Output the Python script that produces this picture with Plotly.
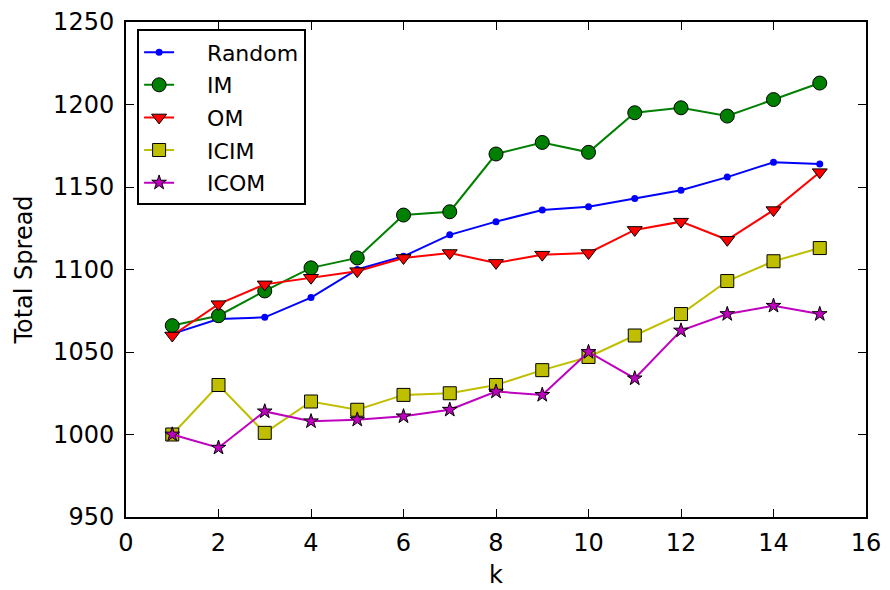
import plotly.graph_objects as go

k = list(range(1, 16))
random_vals = [1061, 1070, 1071, 1083, 1100, 1108, 1121, 1129, 1136, 1138, 1143, 1148, 1156, 1165, 1164]
im_vals = [1066, 1072, 1087, 1101, 1107, 1133, 1135, 1170, 1177, 1171, 1195, 1198, 1193, 1203, 1213]
om_vals = [1060, 1079, 1091, 1095, 1099, 1107, 1110, 1104, 1109, 1110, 1124, 1129, 1118, 1136, 1159]
icim_vals = [1000, 1030, 1001, 1020, 1015, 1024, 1025, 1030, 1039, 1047, 1060, 1073, 1093, 1105, 1113]
icom_vals = [1000, 992, 1014, 1008, 1009, 1011, 1015, 1026, 1024, 1050, 1034, 1063, 1073, 1078, 1073]

series = [
    ("Random", random_vals, "#0000ff", "circle", 7, 0),
    ("IM", im_vals, "#008000", "circle", 14, 1),
    ("OM", om_vals, "#ff0000", "triangle-down", 13, 1),
    ("ICIM", icim_vals, "#bfbf00", "square", 13, 1),
    ("ICOM", icom_vals, "#bf00bf", "star", 11, 1),
]

FONT = "DejaVu Sans"
PAD = "\u00a0" * 4
fig = go.Figure()
for name, vals, color, sym, size, lw in series:
    fig.add_trace(go.Scatter(
        x=k, y=vals, name=PAD + name, mode="lines+markers",
        line=dict(color=color, width=2),
        marker=dict(symbol=sym, size=size, color=color,
                    line=dict(color="black", width=lw)),
        legendgroup=name,
    ))

axis_common = dict(
    showgrid=False, zeroline=False, showline=True, linecolor="black", linewidth=2,
    mirror="ticks", ticks="inside", ticklen=8, tickwidth=1, tickcolor="black",
    tickfont=dict(family=FONT, size=24, color="black"), automargin=False,
)
fig.update_layout(
    width=890, height=590,
    margin=dict(l=126, r=24, t=22, b=73),
    paper_bgcolor="white", plot_bgcolor="white",
    font=dict(family=FONT, color="black"),
    xaxis=dict(range=[0, 16], dtick=2, tick0=0,
               title=dict(text="k", font=dict(family=FONT, size=24), standoff=10),
               ticklabelstandoff=3, **axis_common),
    yaxis=dict(range=[950, 1250], dtick=50, tick0=950,
               title=dict(text="Total Spread", font=dict(family=FONT, size=24), standoff=14),
               ticklabelstandoff=5, **axis_common),
    legend=dict(x=0.015, y=0.985, xanchor="left", yanchor="top",
                bordercolor="black", borderwidth=2, bgcolor="white",
                font=dict(family=FONT, size=22, color="black"),
                itemwidth=30, tracegroupgap=1),
    showlegend=True,
)
fig.write_html("out.html")
